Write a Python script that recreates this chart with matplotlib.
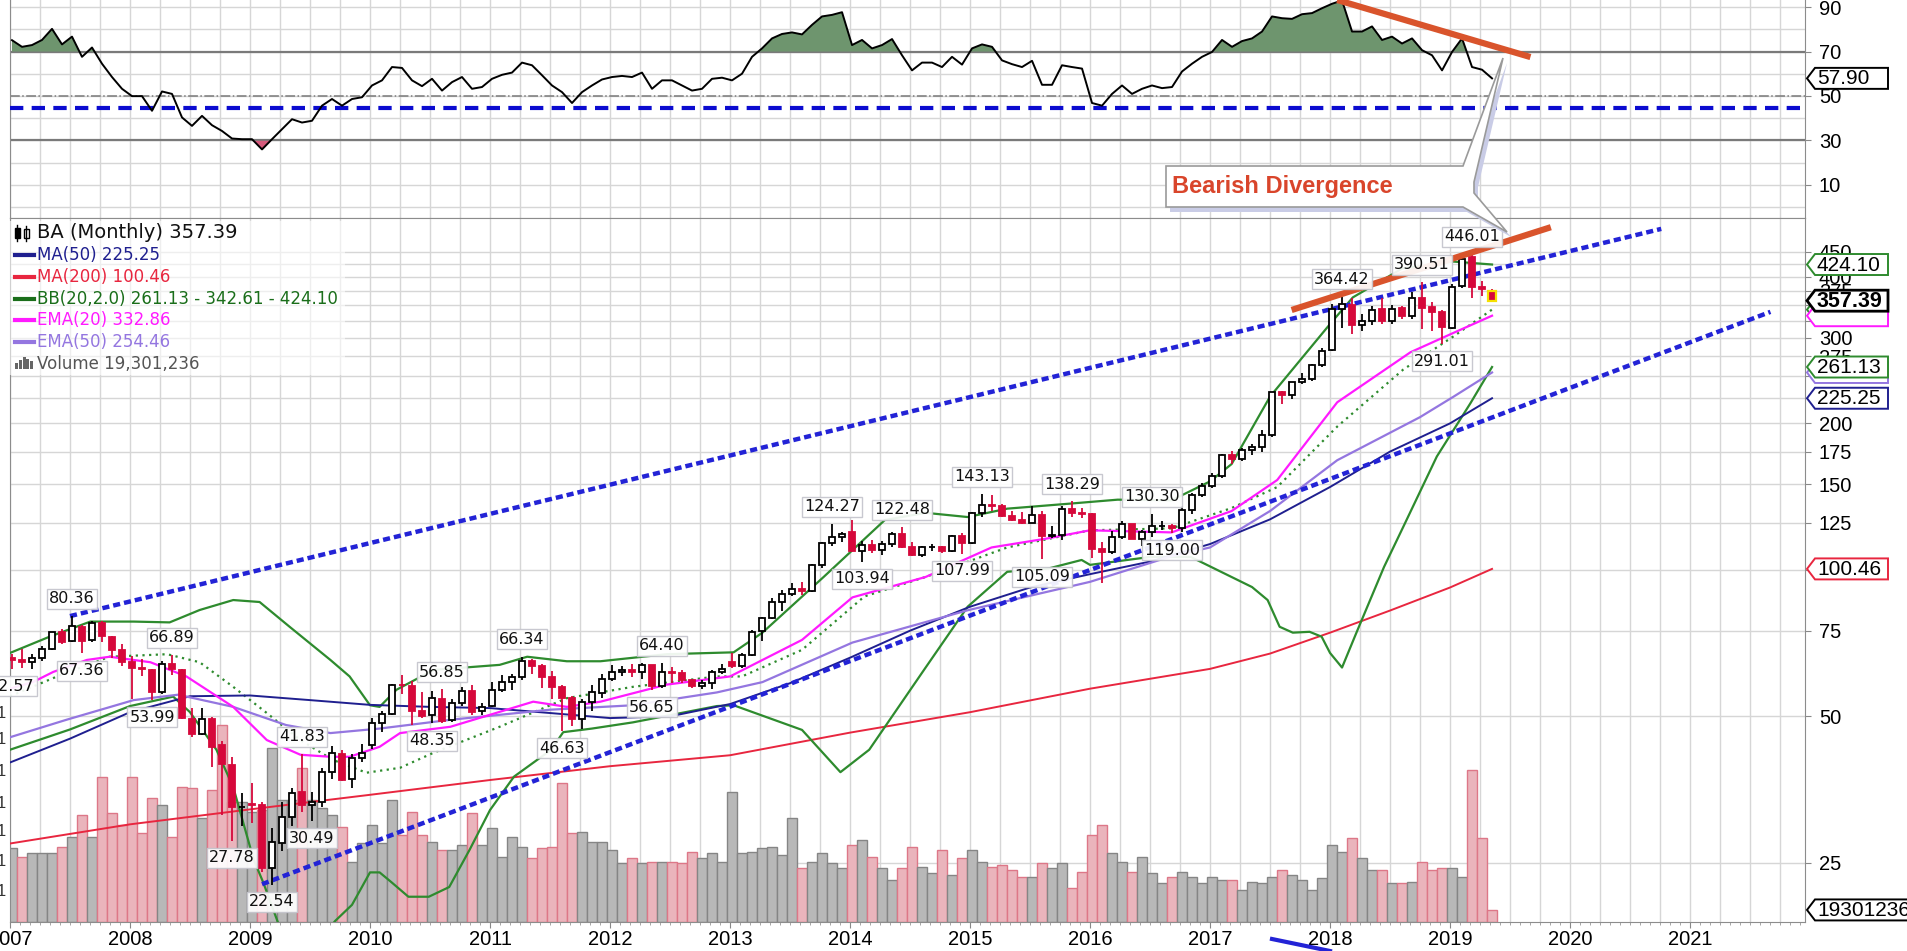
import numpy as np
import matplotlib
matplotlib.use("Agg")
import matplotlib.pyplot as plt
from matplotlib.patches import Rectangle, Polygon
from matplotlib.lines import Line2D
from matplotlib.ticker import NullLocator
from matplotlib.transforms import blended_transform_factory

plt.rcParams['font.family'] = ['Liberation Sans', 'DejaVu Sans']

W, H = 1908, 951

# BA monthly candles, Jan 2007 .. May 2019 (one row per year)
opens = [
    65.9, 65.3, 64.7, 65.9, 68.8, 74.4, 71.4, 76.2, 71.6, 77.7, 72.9, 68.5,
    64.7, 62.8, 62.3, 56.2, 64.2, 62.3, 49.5, 46.1, 49.5, 43.6, 39.8, 32.5,
    33.1, 32.8, 24.4, 27.5, 31.0, 34.9, 32.9, 33.3, 38.5, 41.9, 37.2, 41.1,
    43.6, 48.5, 50.6, 58.1, 57.6, 51.4, 50.4, 54.4, 49.2, 53.2, 56.5, 51.2,
    52.6, 56.6, 58.7, 60.3, 65.0, 63.6, 60.3, 57.4, 54.6, 49.3, 53.6, 55.8,
    59.8, 61.6, 62.3, 61.8, 63.7, 57.8, 61.7, 61.4, 59.3, 57.8, 58.5, 61.7,
    64.8, 63.6, 66.9, 74.8, 79.6, 86.1, 89.2, 91.4, 90.5, 102.2, 113.5, 116.8,
    119.4, 109.6, 112.7, 109.8, 112.9, 118.4, 111.3, 107.5, 111.3, 111.6, 109.4, 117.6,
    113.7, 130.8, 135.9, 135.0, 129.0, 126.5, 124.8, 129.8, 117.6, 117.9, 133.2, 131.0,
    130.1, 110.5, 108.7, 116.8, 124.0, 116.0, 119.5, 123.0, 123.3, 121.9, 133.0, 142.5,
    149.0, 156.1, 172.1, 168.9, 176.5, 179.1, 189.1, 231.6, 228.9, 242.8, 246.4, 264.1,
    283.0, 343.0, 350.0, 318.0, 324.0, 343.0, 325.0, 345.0, 332.0, 362.0, 347.0, 338.0,
    314.0, 384.0, 440.0, 382.0, 375.0,
]
highs = [
    67.3, 68.7, 67.2, 69.8, 74.7, 75.5, 80.36, 77.0, 78.4, 78.4, 73.3, 70.3,
    66.4, 65.5, 62.7, 64.9, 66.89, 62.7, 52.1, 52.1, 49.8, 44.4, 41.3, 34.8,
    36.4, 33.3, 29.5, 33.3, 35.7, 41.83, 34.9, 39.1, 43.4, 42.6, 41.9, 43.8,
    49.6, 51.2, 58.4, 60.8, 59.2, 56.0, 56.4, 56.85, 54.4, 57.5, 58.0, 53.2,
    58.7, 60.7, 61.1, 66.34, 65.6, 64.0, 61.9, 57.9, 55.0, 54.2, 57.9, 61.1,
    63.9, 63.5, 64.0, 64.3, 63.9, 64.40, 63.1, 62.3, 59.8, 59.3, 62.3, 64.0,
    67.5, 67.5, 75.3, 80.0, 87.4, 90.9, 94.0, 94.4, 102.7, 114.0, 124.27, 119.6,
    126.4, 114.6, 115.1, 114.6, 119.9, 122.48, 114.2, 112.0, 112.9, 112.0, 118.1, 119.0,
    131.4, 143.13, 142.2, 136.8, 132.3, 131.4, 135.0, 132.3, 123.3, 135.5, 138.29, 134.1,
    131.0, 114.1, 120.1, 126.0, 124.2, 121.0, 130.30, 126.0, 124.0, 135.0, 144.0, 151.0,
    158.5, 172.9, 175.7, 177.6, 181.5, 193.9, 232.5, 233.0, 243.5, 253.6, 264.5, 286.0,
    352.0, 364.42, 362.0, 336.0, 348.0, 362.0, 350.0, 349.0, 372.0, 390.51, 356.0, 342.0,
    386.0, 438.0, 446.01, 392.0, 377.0,
]
lows = [
    62.57, 62.9, 62.7, 65.1, 68.4, 70.3, 71.0, 67.36, 71.0, 71.0, 65.9, 63.6,
    54.4, 60.4, 53.99, 55.5, 60.8, 49.4, 45.3, 45.7, 39.3, 31.4, 27.78, 29.8,
    30.2, 24.0, 22.54, 26.4, 29.8, 31.8, 30.49, 32.6, 37.2, 36.8, 35.7, 40.3,
    42.8, 46.4, 50.4, 55.6, 48.0, 49.6, 48.35, 48.4, 48.8, 52.4, 50.4, 50.4,
    52.3, 56.2, 56.6, 59.5, 61.1, 57.1, 54.2, 46.63, 47.7, 47.2, 51.3, 54.6,
    59.2, 60.6, 60.2, 59.8, 56.65, 57.2, 58.5, 58.5, 57.3, 56.8, 56.9, 61.0,
    62.8, 63.0, 66.6, 71.3, 79.2, 82.2, 88.3, 88.7, 90.0, 100.9, 111.8, 114.0,
    109.4, 103.94, 108.1, 107.2, 111.6, 110.7, 106.8, 106.5, 109.4, 108.5, 108.9, 107.99,
    113.0, 128.3, 132.3, 128.3, 126.0, 124.2, 124.7, 105.09, 116.1, 115.2, 128.3, 127.8,
    105.8, 93.9, 107.6, 115.9, 115.5, 112.2, 116.8, 120.5, 119.00, 119.8, 130.5, 141.0,
    147.1, 154.7, 165.2, 167.6, 171.9, 174.8, 187.2, 219.7, 224.4, 240.7, 244.5, 261.7,
    282.0, 314.0, 305.0, 310.0, 318.0, 320.0, 320.0, 328.0, 328.0, 312.0, 310.0, 291.01,
    313.0, 380.0, 362.0, 365.0, 355.0,
]
closes = [
    65.3, 64.7, 65.8, 68.8, 74.4, 71.2, 76.5, 71.5, 77.7, 73.0, 68.5, 64.7,
    62.8, 62.5, 56.2, 64.1, 62.5, 49.6, 46.1, 49.5, 43.3, 40.0, 32.6, 32.6,
    32.8, 24.4, 27.6, 31.0, 34.8, 32.9, 33.3, 38.5, 42.0, 37.0, 41.1, 42.0,
    48.5, 50.5, 58.1, 57.9, 51.3, 50.2, 54.5, 48.9, 53.2, 56.5, 51.0, 52.2,
    56.6, 58.7, 60.3, 65.0, 63.6, 60.3, 57.4, 54.5, 49.3, 53.6, 56.0, 59.8,
    61.6, 62.3, 61.7, 63.7, 57.8, 61.7, 61.3, 59.3, 57.8, 58.5, 61.7, 62.5,
    63.5, 66.9, 74.7, 79.5, 86.1, 89.1, 91.4, 90.4, 102.2, 113.5, 116.8, 118.7,
    109.6, 112.7, 109.8, 112.9, 118.4, 111.3, 107.5, 111.3, 111.5, 109.3, 117.6, 113.7,
    130.8, 135.8, 135.1, 129.0, 126.5, 124.8, 129.8, 117.6, 117.9, 133.3, 130.9, 130.1,
    110.5, 108.7, 116.8, 124.0, 116.0, 119.5, 123.0, 123.3, 121.9, 133.0, 142.5, 148.5,
    156.1, 172.1, 168.9, 176.5, 179.1, 188.9, 231.5, 228.9, 242.8, 246.4, 264.1, 281.6,
    343.0, 352.0, 318.0, 324.0, 342.0, 325.0, 344.0, 332.0, 362.0, 346.0, 338.0, 316.0,
    382.0, 436.0, 381.9, 377.7, 357.39,
]
# monthly volume, millions of shares
volume_m = [
    118, 104, 110, 110, 110, 120, 136, 171, 136, 232, 174, 155,
    232, 142, 198, 187, 136, 216, 214, 166, 211, 315, 192, 192,
    176, 179, 278, 195, 195, 246, 195, 182, 171, 152, 96, 126,
    155, 126, 195, 139, 176, 139, 128, 115, 115, 123, 174, 123,
    150, 104, 136, 120, 102, 118, 120, 222, 142, 144, 128, 128,
    115, 94, 102, 94, 96, 96, 96, 94, 112, 102, 110, 96,
    208, 110, 112, 118, 120, 107, 166, 86, 96, 110, 94, 86,
    123, 131, 104, 86, 67, 86, 120, 88, 78, 115, 75, 102,
    115, 96, 88, 91, 83, 72, 72, 94, 86, 94, 54, 80,
    139, 155, 110, 96, 80, 104, 78, 62, 72, 80, 72, 62,
    72, 67, 67, 51, 64, 62, 72, 83, 75, 67, 51, 70,
    123, 112, 134, 102, 83, 83, 62, 62, 64, 96, 83, 86,
    86, 72, 243, 134, 19.3,
]
# RSI(14) monthly
rsi = [
    75.1, 72.1, 72.9, 75.2, 80.2, 73.2, 76.7, 67.6, 71.8, 64.5, 58.5, 53.2,
    49.9, 49.9, 43.3, 52.0, 50.9, 40.3, 36.5, 41.0, 36.8, 34.2, 30.8, 30.5,
    30.5, 25.9, 30.5, 35.0, 39.5, 38.0, 38.8, 45.6, 48.6, 45.6, 48.6, 49.4,
    54.7, 57.0, 63.0, 62.6, 57.0, 54.4, 57.7, 52.4, 56.2, 58.5, 53.2, 54.0,
    57.7, 59.5, 60.5, 65.0, 63.8, 59.3, 54.7, 51.7, 46.8, 51.7, 54.7, 57.4,
    58.5, 59.0, 58.5, 60.5, 53.2, 57.0, 57.0, 54.7, 52.4, 53.2, 57.7, 58.2,
    57.0, 60.0, 67.6, 71.4, 75.9, 77.9, 78.6, 77.7, 82.0, 85.8, 86.5, 87.7,
    72.9, 75.2, 71.4, 72.9, 75.6, 68.3, 61.5, 65.0, 65.0, 63.0, 67.6, 64.1,
    71.4, 73.2, 72.1, 66.0, 64.3, 63.0, 65.8, 55.0, 55.0, 63.8, 63.0, 62.3,
    46.8, 45.6, 50.9, 54.7, 50.9, 53.2, 54.7, 53.5, 54.0, 61.0, 64.5, 67.6,
    69.8, 75.2, 72.1, 74.7, 75.9, 79.0, 85.8, 85.0, 84.7, 86.8, 87.3, 89.5,
    91.5, 93.0, 79.0, 79.0, 81.3, 75.2, 76.7, 73.6, 75.9, 70.6, 68.3, 61.5,
    69.8, 75.9, 63.0, 61.8, 57.9,
]

# overlay indicators (decimal year, price)
ma200_t = [2007.0, 2008.0, 2009.0, 2010.0, 2011.0, 2012.0, 2013.0, 2014.0, 2015.0, 2016.0,
           2017.0, 2017.5, 2018.0, 2018.5, 2019.0, 2019.35]
ma200_v = [27.4, 30.0, 32.2, 34.5, 37.0, 39.5, 41.6, 46.3, 51.0, 57.0,
           62.6, 67.3, 74.3, 82.5, 92.0, 100.46]
ma50_t = [2007.0, 2007.5, 2008.0, 2008.5, 2009.0, 2009.5, 2010.0, 2010.5, 2011.0, 2011.5,
          2012.0, 2012.5, 2013.0, 2013.5, 2014.0, 2014.5, 2015.0, 2015.5, 2016.0, 2016.5,
          2017.0, 2017.5, 2018.0, 2018.5, 2019.0, 2019.35]
ma50_v = [40.2, 45.0, 51.0, 55.0, 55.2, 54.0, 52.8, 52.3, 52.0, 50.8,
          49.6, 50.0, 53.0, 58.5, 66.0, 75.0, 84.0, 92.0, 98.0, 104.0,
          113.0, 127.0, 148.0, 175.0, 200.0, 225.25]
ema50_t = [2007.0, 2007.47, 2008.03, 2008.4, 2008.86, 2009.3, 2009.67, 2010.08, 2010.67, 2011.5,
           2012.19, 2012.89, 2013.27, 2014.02, 2014.98, 2016.0, 2016.67, 2017.0, 2017.5, 2018.06,
           2018.75, 2019.03, 2019.35]
ema50_v = [45.3, 49.2, 54.0, 55.4, 52.3, 48.0, 46.2, 47.2, 49.2, 51.6,
           52.7, 56.0, 58.8, 70.9, 82.6, 94.5, 106.5, 111.2, 132.1, 168.0,
           206.0, 227.0, 254.46]
ema20_t = [2007.0, 2007.19, 2007.36, 2007.64, 2007.83, 2008.17, 2008.47, 2008.86, 2009.14, 2009.42,
           2009.67, 2009.83, 2010.08, 2010.25, 2010.67, 2011.36, 2011.64, 2011.92, 2012.47, 2013.0,
           2013.6, 2014.02, 2014.63, 2015.18, 2015.65, 2016.0, 2016.68, 2017.18, 2017.56, 2018.06,
           2018.67, 2019.03, 2019.35]
ema20_v = [57.0, 58.8, 61.7, 65.3, 66.3, 64.6, 60.4, 52.3, 44.7, 41.7,
           41.3, 41.3, 43.3, 46.2, 47.6, 53.6, 52.3, 53.6, 58.1, 60.4,
           71.8, 87.8, 96.7, 111.2, 116.1, 120.6, 119.4, 132.1, 153.0, 221.0,
           280.0, 307.0, 332.86]
bbu_t = [2007.0, 2007.33, 2007.67, 2008.03, 2008.33, 2008.58, 2008.86, 2009.08, 2009.33, 2009.67,
         2009.83, 2010.0, 2010.08, 2010.22, 2010.53, 2011.08, 2011.31, 2011.64, 2011.92, 2012.47,
         2013.03, 2013.27, 2013.78, 2014.29, 2014.63, 2014.98, 2015.31, 2015.83, 2016.23, 2016.68,
         2017.0, 2017.18, 2017.5, 2018.0, 2018.19, 2018.6, 2019.03, 2019.35]
bbu_v = [67.5, 72.9, 78.3, 78.3, 78.0, 82.7, 86.7, 85.9, 76.4, 65.3,
         60.4, 52.7, 52.3, 56.7, 62.3, 63.8, 66.3, 64.9, 64.9, 67.1,
         67.7, 74.3, 96.7, 126.6, 131.0, 128.4, 133.6, 136.8, 139.4, 139.0,
         152.0, 165.0, 227.0, 320.0, 363.0, 416.0, 430.0, 424.10]
bbm_t = [2007.0, 2007.4, 2007.83, 2008.31, 2008.58, 2008.86, 2009.14, 2009.42, 2009.69, 2009.97,
         2010.25, 2010.53, 2011.08, 2011.64, 2012.19, 2012.89, 2013.1, 2013.6, 2014.12, 2014.63,
         2015.31, 2016.0, 2016.68, 2017.18, 2017.56, 2018.06, 2018.61, 2019.03, 2019.35]
bbm_v = [55.0, 60.5, 66.3, 67.1, 64.6, 57.5, 50.8, 44.7, 40.7, 38.3,
         39.2, 42.1, 47.6, 54.5, 57.5, 60.4, 60.4, 68.5, 88.2, 96.7,
         111.2, 120.6, 121.7, 134.0, 148.0, 197.0, 258.0, 302.0, 342.61]
bbl_t = [2007.0, 2007.5, 2008.0, 2008.36, 2008.5, 2008.72, 2008.86, 2009.03, 2009.11, 2009.3,
         2009.55, 2009.71, 2009.85, 2010.0, 2010.08, 2010.18, 2010.32, 2010.49, 2010.66, 2010.83,
         2011.0, 2011.2, 2011.51, 2011.61, 2011.85, 2012.19, 2012.89, 2013.03, 2013.6, 2013.92,
         2014.16, 2014.63, 2014.98, 2015.31, 2015.65, 2015.93, 2016.0, 2016.5, 2016.84, 2017.35,
         2017.48, 2017.58, 2017.69, 2017.83, 2017.93, 2018.0, 2018.1, 2018.22, 2018.45, 2018.62,
         2018.89, 2019.17, 2019.35]
bbl_v = [42.7, 47.0, 52.5, 54.9, 51.0, 42.7, 35.8, 25.4, 22.8, 17.0,
         17.0, 19.0, 20.5, 23.9, 23.9, 22.8, 21.3, 21.3, 22.3, 26.6,
         32.1, 37.6, 42.7, 46.4, 47.2, 48.6, 52.5, 52.7, 46.9, 38.4,
         42.7, 63.0, 84.0, 99.1, 100.6, 104.8, 102.4, 106.3, 106.3, 92.2,
         86.7, 76.4, 74.3, 74.6, 72.9, 67.5, 63.0, 74.3, 101.4, 124.0,
         171.0, 220.0, 261.13]

# drawn trendlines (start/end in decimal year, price)
upper_channel = ([2007.5, 2020.76], [80.36, 502.0])
lower_channel = ([2009.1, 2021.67], [22.6, 339.0])
price_divergence = ([2017.68, 2019.84], [342.0, 506.0])
rsi_divergence = ([2018.06, 2019.67], [93.2, 67.5])
rsi_blue_level = 44.5

# swing labels: (year, month, value, side)
swings = [
    (2007, 1, 62.57, 'lo'), (2007, 7, 80.36, 'hi'), (2007, 8, 67.36, 'lo'),
    (2008, 3, 53.99, 'lo'), (2008, 5, 66.89, 'hi'), (2008, 11, 27.78, 'lo'),
    (2009, 3, 22.54, 'lo'), (2009, 6, 41.83, 'hi'), (2009, 7, 30.49, 'lo'),
    (2010, 7, 48.35, 'lo'), (2010, 8, 56.85, 'hi'), (2011, 4, 66.34, 'hi'),
    (2011, 8, 46.63, 'lo'), (2012, 5, 56.65, 'lo'), (2012, 6, 64.40, 'hi'),
    (2013, 11, 124.27, 'hi'), (2014, 2, 103.94, 'lo'), (2014, 6, 122.48, 'hi'),
    (2014, 12, 107.99, 'lo'), (2015, 2, 143.13, 'hi'), (2015, 8, 105.09, 'lo'),
    (2015, 11, 138.29, 'hi'), (2016, 7, 130.30, 'hi'), (2016, 9, 119.00, 'lo'),
    (2018, 2, 364.42, 'hi'), (2018, 10, 390.51, 'hi'), (2018, 12, 291.01, 'lo'),
    (2019, 3, 446.01, 'hi'),
]

price_ticks = list(range(25, 451, 25))
# ticks whose labels sit completely under the value tags on the right
covered_ticks = [100, 225, 250, 325, 350, 425]
rsi_ticks = [10, 30, 50, 70, 90]
years = list(range(2007, 2022))

RED = '#d6083b'
GREEN = '#2e8b2e'
NAVY = '#1f1f8f'
MAGENTA = '#ff1aff'
PURPLE = '#9476e0'
MA200C = '#e8263f'
ORANGE = '#d9542c'
GRID = '#d6d6d6'

n = len(closes)
t = 2007 + (np.arange(n) + 0.2) / 12.0
rsi_arr = np.array(rsi)


def frac(x0, y0, x1, y1):
    return [x0 / W, 1 - y1 / H, (x1 - x0) / W, (y1 - y0) / H]


fig = plt.figure(figsize=(W / 100, H / 100), dpi=100)
fig.patch.set_facecolor('white')

LEFT, RIGHT, SPLIT, BOTTOM = 10, 1805, 218, 922
ax_rsi = fig.add_axes(frac(LEFT, 0, RIGHT, SPLIT))
ax_vol = fig.add_axes(frac(LEFT, SPLIT, RIGHT, BOTTOM))
ax = fig.add_axes(frac(LEFT, SPLIT, RIGHT, BOTTOM), sharex=ax_vol)
ax_vol.set_zorder(1)
ax.set_zorder(2)
ax.patch.set_visible(False)

xlim = (2007.0, 2021.958)
ax.set_xlim(*xlim)
ax_rsi.set_xlim(*xlim)
ax.set_yscale('log')
ax.set_ylim(18.9, 528.5)
ax_vol.set_ylim(0, 1126)
ax_rsi.set_ylim(-5.0, 93.2)

quarters = np.arange(2007.0, 2022.0, 0.25)

# ---------- grid (bottom layer on the volume axes) ----------
for q in quarters:
    ax_vol.axvline(q, color=GRID, lw=1, zorder=0)
    ax_rsi.axvline(q, color=GRID, lw=1, zorder=0)
grid_tr = blended_transform_factory(ax_vol.transAxes, ax.transData)
for p in price_ticks:
    ax_vol.add_line(Line2D([0, 1], [p, p], transform=grid_tr, color=GRID, lw=1, zorder=0))
for r in range(0, 100, 10):
    ax_rsi.axhline(r, color=GRID, lw=1, zorder=0)

# ---------- volume ----------
prev = [closes[0]] + closes[:-1]
vol_fc = ['#b8b8b8' if (i == 0 or c >= p) else '#eab4bc' for i, (c, p) in enumerate(zip(closes, prev))]
vol_ec = ['#858585' if fc == '#b8b8b8' else '#dd7788' for fc in vol_fc]
ax_vol.bar(t, volume_m, width=0.92 / 12, color=vol_fc, edgecolor=vol_ec, lw=1, zorder=2)
ax_vol.set_yticks([])
ax_vol.tick_params(axis='x', which='both', length=0, labelbottom=False)
for s in ax_vol.spines.values():
    s.set_visible(False)

# ---------- indicator lines ----------
ax.plot(ma200_t, ma200_v, color=MA200C, lw=1.4, zorder=3)
ax.plot(bbl_t, bbl_v, color=GREEN, lw=1.6, zorder=3)
ax.plot(bbu_t, bbu_v, color=GREEN, lw=1.6, zorder=3)
ax.plot(bbm_t, bbm_v, color=GREEN, lw=1.6, ls=(0, (1, 2)), zorder=3)
ax.plot(ma50_t, ma50_v, color=NAVY, lw=1.4, zorder=3)
ax.plot(ema50_t, ema50_v, color=PURPLE, lw=1.6, zorder=3)
ax.plot(ema20_t, ema20_v, color=MAGENTA, lw=1.6, zorder=3)

for xs, ys in (upper_channel, lower_channel):
    ax.plot(xs, ys, color='#2323d6', lw=3.2, ls=(0, (1.6, 0.9)), zorder=5)

# ---------- candles ----------
cw = 0.68 / 12
for ti, o, h, l, c in zip(t, opens, highs, lows, closes):
    up = c >= o
    col = 'black' if up else RED
    ax.vlines(ti, l, h, color=col, lw=1.3, zorder=6)
    ax.add_patch(Rectangle((ti - cw / 2, min(o, c)), cw, max(abs(c - o), 0.001),
                           fc='white' if up else RED, ec=col, lw=1.3, zorder=7))
# highlight current candle
ax.add_patch(Rectangle((t[-1] - cw / 2 - 0.006, min(opens[-1], closes[-1])), cw + 0.012,
                       abs(closes[-1] - opens[-1]), fc='none', ec='#f5e000', lw=1.6, zorder=8))

ax.plot(*price_divergence, color=ORANGE, lw=4.5, solid_capstyle='butt', zorder=9)

# swing labels
for yr, mo, val, side in swings:
    k = (yr - 2007) * 12 + (mo - 1)
    dy = 7 if side == 'hi' else -7
    ax.annotate('%.2f' % val, xy=(t[k], val), xytext=(0, dy), textcoords='offset points',
                ha='center', va='bottom' if side == 'hi' else 'top', fontsize=11.5,
                family='DejaVu Sans', color='#111111', zorder=10,
                bbox=dict(boxstyle='square,pad=0.15', fc='white', ec='#c4c4cc', lw=1, alpha=0.92))

# ---------- main axes ticks ----------
ax.yaxis.tick_right()
ax.set_yticks(price_ticks)
ax.set_yticklabels(['' if p in covered_ticks else str(p) for p in price_ticks])
ax.yaxis.set_minor_locator(NullLocator())
ax.tick_params(axis='y', which='major', length=4, pad=6, labelsize=14.5, color='#888888')
ax.set_xticks(years)
ax.set_xticklabels([str(y) for y in years])
ax.set_xticks(np.arange(2007.0, 2022.0, 1 / 12), minor=True)
ax.tick_params(axis='x', which='major', length=4, pad=2, labelsize=14.5, color='#888888')
ax.tick_params(axis='x', which='minor', length=2, color='#999999')
for s in ax.spines.values():
    s.set_color('#8c8c8c')

# ---------- RSI panel ----------
ax_rsi.fill_between(t, 70, rsi_arr, where=rsi_arr >= 70, interpolate=True, color='#6e956e', zorder=2, lw=0)
ax_rsi.fill_between(t, 30, rsi_arr, where=rsi_arr <= 30, interpolate=True, color='#d65a7c', zorder=2, lw=0)
ax_rsi.axhline(70, color='#7a7a7a', lw=1.6, zorder=1)
ax_rsi.axhline(30, color='#7a7a7a', lw=1.6, zorder=1)
ax_rsi.axhline(50, color='#7a7a7a', lw=1.1, ls='-.', zorder=1)
ax_rsi.axhline(rsi_blue_level, color='#0b0bd0', lw=3, ls=(0, (3.2, 2)), zorder=3)
ax_rsi.plot(t, rsi_arr, color='black', lw=1.4, zorder=4)
ax_rsi.plot(*rsi_divergence, color=ORANGE, lw=4.5, solid_capstyle='butt', zorder=5)
ax_rsi.yaxis.tick_right()
ax_rsi.set_yticks(rsi_ticks)
ax_rsi.set_yticklabels([str(r) for r in rsi_ticks])
ax_rsi.tick_params(axis='y', length=4, pad=6, labelsize=14.5, color='#888888')
ax_rsi.tick_params(axis='x', length=0, labelbottom=False)
for s in ax_rsi.spines.values():
    s.set_color('#8c8c8c')
ax_rsi.spines['top'].set_visible(False)

# ---------- overlay: tags, legend, callout ----------
ov = fig.add_axes([0, 0, 1, 1])
ov.set_xlim(0, W)
ov.set_ylim(H, 0)
ov.axis('off')
ov.set_zorder(20)
ov.patch.set_alpha(0)

tag_z = [10]


def tag(axis, value, text, color, bold=False, right=1888, lw=1.4, show_text=True):
    # each tag sits above the previous one, box and text together
    y = H - axis.transData.transform((2010.0, value))[1]
    hh = 10.5
    z = tag_z[0]
    tag_z[0] += 2
    pts = [(1807, y), (1815, y - hh), (right, y - hh), (right, y + hh), (1815, y + hh)]
    ov.add_patch(Polygon(pts, closed=True, fc='white', ec=color, lw=lw, zorder=z))
    if show_text:
        ov.text(1817, y + 0.5, text, ha='left', va='center', fontsize=15.5 if bold else 15,
                fontweight='bold' if bold else 'normal', color='black', zorder=z + 1)


# tags that end up hidden behind others in the reference only show their frames
tag(ax, 342.61, '342.61', GREEN, show_text=False)
tag(ax, 332.86, '332.86', MAGENTA, show_text=False)
tag(ax, 254.46, '254.46', PURPLE, show_text=False)
tag(ax, 424.10, '424.10', GREEN)
tag(ax, 261.13, '261.13', GREEN)
tag(ax, 225.25, '225.25', NAVY)
tag(ax, 100.46, '100.46', MA200C)
tag(ax, 357.39, '357.39', 'black', bold=True, lw=2)
tag(ax_vol, 19.3, '19301236', 'black', right=1930)
tag(ax_rsi, 57.90, '57.90', 'black')

# legend block
ov.add_patch(Rectangle((8, 221), 337, 154, fc='white', ec='none', alpha=0.6))
ov.add_patch(Rectangle((15, 228), 5, 10, fc='black', ec='black', lw=1))
ov.plot([17.5, 17.5], [225, 241], color='black', lw=1)
ov.add_patch(Rectangle((24, 229), 5, 9, fc='white', ec='black', lw=1))
ov.plot([26.5, 26.5], [226, 241], color='black', lw=1)
ov.text(37, 233, 'BA (Monthly) 357.39', fontsize=14, family='DejaVu Sans', va='center', color='#111111')
legend_rows = [
    ('MA(50) 225.25', NAVY),
    ('MA(200) 100.46', MA200C),
    ('BB(20,2.0) 261.13 - 342.61 - 424.10', '#1a6e1a'),
    ('EMA(20) 332.86', MAGENTA),
    ('EMA(50) 254.46', PURPLE),
]
for i, (txt, col) in enumerate(legend_rows):
    yy = 255 + i * 21.8
    ov.plot([15, 34], [yy, yy], color=col, lw=3)
    ov.text(37, yy, txt, fontsize=12, family='DejaVu Sans', va='center', color=col)
for j, hb in enumerate([6, 9, 12, 10, 8]):
    ov.add_patch(Rectangle((15 + j * 3.8, 369 - hb), 3, hb, fc='#666666', ec='none'))
ov.text(37, 364, 'Volume 19,301,236', fontsize=12, family='DejaVu Sans', va='center', color='#555555')

# cut-off left axis labels
for yy in [714, 739, 771, 804, 831, 861, 891]:
    ov.text(6, yy, '1', ha='right', va='center', fontsize=12, color='#333333')

# callout
callout = [(1166, 166), (1463, 166), (1503, 58), (1474, 182), (1474, 193),
           (1507, 232), (1463, 207), (1166, 207)]
ov.add_patch(Polygon([(x + 4, y + 5) for x, y in callout], closed=True, fc='#c9cce6', ec='none', zorder=2))
ov.add_patch(Polygon(callout, closed=True, fc='white', ec='#9a9a9a', lw=1.2, zorder=3))
ov.text(1172, 187, 'Bearish Divergence', fontsize=17, fontweight='bold', color='#d9452b',
        va='center', ha='left', zorder=4)

# stray trendline fragment below the axis
ov.plot([1272, 1330], [939, 951], color='#2323d6', lw=3)

fig.savefig('out.png', dpi=100)
